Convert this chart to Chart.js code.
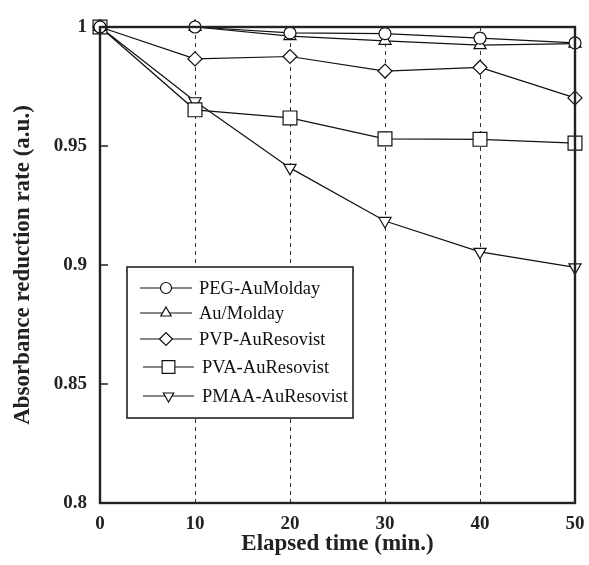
<!DOCTYPE html>
<html><head><meta charset="utf-8">
<script src="https://cdn.jsdelivr.net/npm/chart.js@4"></script>
<style>html,body{margin:0;padding:0;background:#fff}#wrap{width:589px;height:565px}</style>
</head><body><div id="wrap"><canvas id="c" width="589" height="565"></canvas></div>
<script>
const times = [0, 10, 20, 30, 40, 50];
const seriesLabels = ['PEG-AuMolday', 'Au/Molday', 'PVP-AuResovist', 'PVA-AuResovist', 'PMAA-AuResovist'];
const pegAuMolday = [1.000, 1.000, 0.9975, 0.9972, 0.9953, 0.9933];
const auMolday = [1.000, 1.000, 0.9962, 0.9942, 0.9924, 0.9930];
const pvpAuResovist = [1.000, 0.9866, 0.9876, 0.9815, 0.9830, 0.9702];
const pvaAuResovist = [1.000, 0.9652, 0.9618, 0.9530, 0.9528, 0.9512];
const pmaaAuResovist = [1.000, 0.9688, 0.9408, 0.9185, 0.9055, 0.8990];
const yTicks = [0.8, 0.85, 0.9, 0.95, 1];
const xTicks = [0, 10, 20, 30, 40, 50];

const values = [pegAuMolday, auMolday, pvpAuResovist, pvaAuResovist, pmaaAuResovist];
const styles = [
  {pointStyle: 'circle', radius: 6, legendRadius: 5.5},
  {pointStyle: 'triangle', radius: 7, legendRadius: 6},
  {pointStyle: 'rectRot', radius: 7, legendRadius: 6.5},
  {pointStyle: 'rect', radius: 9.8, legendRadius: 9},
  {pointStyle: 'triangle', radius: 7, legendRadius: 6, rotation: 180}
];
const SERIF = '"Liberation Serif", "DejaVu Serif", serif';

const datasets = seriesLabels.map((lab, i) => ({
  label: lab,
  data: times.map((t, j) => ({x: t, y: values[i][j]})),
  borderColor: '#111',
  borderWidth: 1.2,
  backgroundColor: '#fff',
  pointBackgroundColor: '#fff',
  pointBorderColor: '#111',
  pointBorderWidth: 1.2,
  pointStyle: styles[i].pointStyle,
  pointRadius: styles[i].radius,
  pointRotation: styles[i].rotation || 0,
  tension: 0,
  fill: false,
  clip: false
}));

const framePlugin = {
  id: 'frame',
  afterDatasetsDraw(chart) {
    const {ctx, chartArea: a, scales} = chart;
    ctx.save();
    ctx.strokeStyle = '#222';
    ctx.lineWidth = 2.4;
    ctx.strokeRect(a.left, a.top, a.right - a.left, a.bottom - a.top);
    // inward y ticks
    ctx.lineWidth = 1.5;
    yTicks.forEach(v => {
      const y = scales.y.getPixelForValue(v);
      ctx.beginPath(); ctx.moveTo(a.left, y); ctx.lineTo(a.left + 8, y); ctx.stroke();
    });
    // legend
    const bx = 127, by = 267, bw = 226, bh = 151;
    ctx.fillStyle = '#fff';
    ctx.fillRect(bx, by, bw, bh);
    ctx.lineWidth = 1.6;
    ctx.strokeRect(bx, by, bw, bh);
    ctx.font = '18.5px ' + SERIF;
    ctx.textBaseline = 'middle';
    const rowsY = [288, 313, 339, 367, 396];
    chart.data.datasets.forEach((ds, i) => {
      const y = rowsY[i];
      const x0 = i >= 3 ? 143 : 140, x1 = i >= 3 ? 194 : 192;
      const xm = (x0 + x1) / 2;
      ctx.strokeStyle = '#111';
      ctx.lineWidth = 1.2;
      ctx.beginPath(); ctx.moveTo(x0, y); ctx.lineTo(x1, y); ctx.stroke();
      ctx.fillStyle = '#fff';
      Chart.helpers.drawPoint(ctx, {
        pointStyle: ds.pointStyle, radius: styles[i].legendRadius,
        rotation: ds.pointRotation, borderWidth: 1.2
      }, xm, y);
      ctx.fillStyle = '#111';
      ctx.textAlign = 'left';
      ctx.fillText(ds.label, x1 + (i >= 3 ? 8 : 7), y + 1);
    });
    ctx.restore();
  }
};

new Chart(document.getElementById('c'), {
  type: 'line',
  data: {datasets},
  options: {
    responsive: false,
    animation: false,
    layout: {padding: {top: 27, right: 14, left: 0, bottom: 0}},
    plugins: {legend: {display: false}, tooltip: {enabled: false}},
    scales: {
      x: {
        type: 'linear', min: 0, max: 50,
        afterFit(s) { s.height = 62; s.paddingLeft = 0; s.paddingRight = 0; },
        afterBuildTicks(s) { s.ticks = xTicks.map(v => ({value: v})); },
        ticks: {color: '#222', font: {family: SERIF, size: 19, weight: 'bold'}, padding: 10},
        grid: {
          drawTicks: false,
          color: c => (c.tick && (c.tick.value === 0 || c.tick.value === 50)) ? 'rgba(0,0,0,0)' : '#333',
          lineWidth: 1
        },
        border: {display: false, dash: [4, 4]},
        title: {display: true, text: 'Elapsed time (min.)', color: '#222',
          font: {family: SERIF, size: 23, weight: 'bold'}, padding: {top: 0, bottom: 7}}
      },
      y: {
        type: 'linear', min: 0.8, max: 1,
        afterFit(s) { s.width = 100; s.paddingTop = 0; s.paddingBottom = 0; },
        afterBuildTicks(s) { s.ticks = yTicks.map(v => ({value: v})); },
        ticks: {color: '#222', font: {family: SERIF, size: 19, weight: 'bold'}, padding: 13,
          callback: v => String(+v.toFixed(2)).replace(/^1\.?0*$/, '1')},
        grid: {display: false, drawTicks: false},
        border: {display: false},
        title: {display: true, text: 'Absorbance reduction rate (a.u.)', color: '#222',
          font: {family: SERIF, size: 23, weight: 'bold'}, padding: {top: 9, bottom: 0}}
      }
    }
  },
  plugins: [framePlugin]
});
</script>
</body></html>
